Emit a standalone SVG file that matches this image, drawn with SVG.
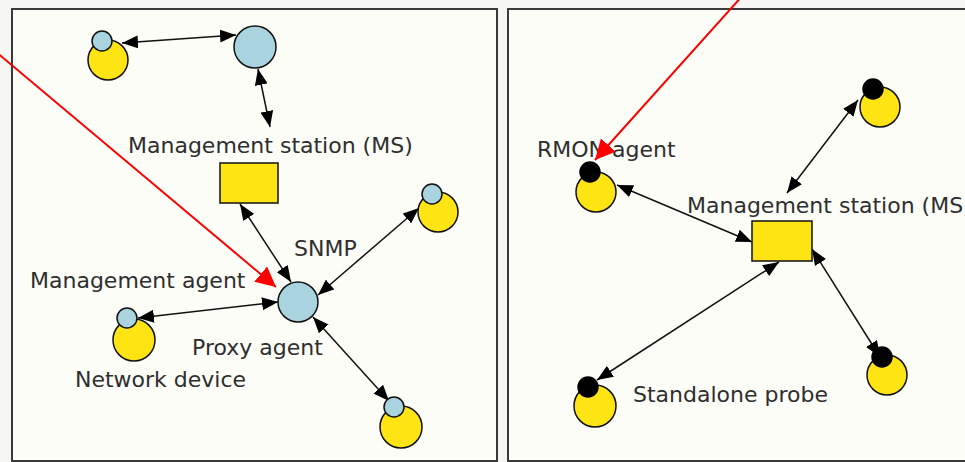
<svg xmlns="http://www.w3.org/2000/svg" width="965" height="462" viewBox="0 0 965 462">
<style>
.panel{fill:#fdfdf8;stroke:#3a3a3a;stroke-width:2}
.dev{fill:#ffe414;stroke:#111;stroke-width:1.5}
.blue{fill:#a9d3de;stroke:#111;stroke-width:1.5}
.blk{fill:#000;stroke:#000;stroke-width:1.5}
.ms{fill:#ffe414;stroke:#111;stroke-width:1.5}
.lbl{font-family:"DejaVu Sans",Verdana,sans-serif;font-size:22px;fill:#2e2e2e}
.con{stroke:#111;stroke-width:1.5;fill:none;marker-start:url(#ah);marker-end:url(#ah)}
.red{stroke:#f00;stroke-width:2;fill:none;marker-end:url(#rh)}
</style>
<defs>
<marker id="ah" viewBox="0 0 16 13" refX="16" refY="6.5" markerWidth="16" markerHeight="13" markerUnits="userSpaceOnUse" orient="auto-start-reverse">
<path d="M0,0 L16,6.5 L0,13 z" fill="#000"/>
</marker>
<marker id="rh" viewBox="0 0 20 20" refX="20" refY="10" markerWidth="20" markerHeight="20" markerUnits="userSpaceOnUse" orient="auto">
<path d="M0,0 L20,10 L0,20 z" fill="#f00"/>
</marker>
</defs>
<rect x="0" y="0" width="965" height="462" fill="#f6f6f3"/>
<rect class="panel" x="12" y="9" width="485" height="452"/>
<rect class="panel" x="508" y="9" width="470" height="452"/>

<g id="connectors">
<line class="con" x1="122" y1="43" x2="236" y2="35"/>
<line class="con" x1="258" y1="69" x2="270" y2="127"/>
<line class="con" x1="240" y1="204" x2="291" y2="282"/>
<line class="con" x1="318" y1="295" x2="419" y2="208"/>
<line class="con" x1="138" y1="318" x2="278" y2="302"/>
<line class="con" x1="313" y1="317" x2="389" y2="401"/>
<line class="con" x1="858" y1="100" x2="787" y2="193"/>
<line class="con" x1="617" y1="185" x2="752" y2="242"/>
<line class="con" x1="812" y1="249" x2="880" y2="357"/>
<line class="con" x1="779" y1="262" x2="597" y2="380"/>
</g>

<g id="ms-left"><rect class="ms" x="220" y="163" width="58" height="40"/></g>
<g id="top-hub"><circle class="blue" cx="255" cy="47" r="21"/></g>
<g id="proxy-agent"><circle class="blue" cx="298" cy="302" r="20"/></g>
<g id="dev-topleft"><circle class="dev" cx="108" cy="60" r="20"/><circle class="blue" cx="102" cy="41" r="10"/></g>
<g id="dev-right"><circle class="dev" cx="438" cy="212" r="20"/><circle class="blue" cx="432" cy="194" r="10"/></g>
<g id="network-device"><circle class="dev" cx="134" cy="340" r="21"/><circle class="blue" cx="127" cy="318" r="10"/></g>
<g id="dev-bottom"><circle class="dev" cx="401" cy="427" r="21"/><circle class="blue" cx="394" cy="407" r="10"/></g>

<g id="ms-right"><rect class="ms" x="752" y="221" width="60" height="40"/></g>
<g id="rmon-agent"><circle class="dev" cx="596" cy="192" r="20"/><circle class="blk" cx="590" cy="172" r="10"/></g>
<g id="dev-topright"><circle class="dev" cx="880" cy="107" r="20"/><circle class="blk" cx="873" cy="89" r="10"/></g>
<g id="dev-bottomright"><circle class="dev" cx="887" cy="375" r="20"/><circle class="blk" cx="882" cy="357" r="10"/></g>
<g id="standalone-probe"><circle class="dev" cx="595" cy="406" r="21"/><circle class="blk" cx="588" cy="387" r="10"/></g>

<g id="labels">
<text class="lbl" x="128" y="153">Management station (MS)</text>
<text class="lbl" x="294" y="256">SNMP</text>
<text class="lbl" x="30" y="288">Management agent</text>
<text class="lbl" x="192" y="355">Proxy agent</text>
<text class="lbl" x="75" y="387">Network device</text>
<text class="lbl" x="537" y="157">RMON agent</text>
<text class="lbl" x="687" y="213">Management station (MS)</text>
<text class="lbl" x="633" y="402">Standalone probe</text>
</g>

<g id="red-arrows">
<line class="red" x1="-5" y1="51" x2="276" y2="287"/>
<line class="red" x1="744" y1="-6" x2="595" y2="160"/>
</g>
</svg>
